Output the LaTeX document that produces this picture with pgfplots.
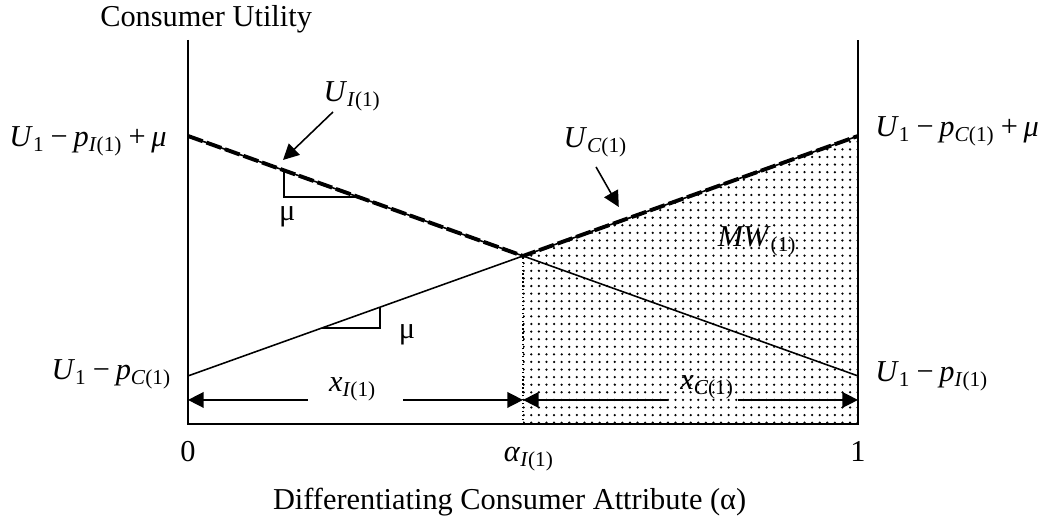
\documentclass[border=0pt]{standalone}
\usepackage{fontspec}
\setmainfont{Liberation Serif}
\usepackage{pgfplots}
\pgfplotsset{compat=1.18}
\usetikzlibrary{arrows.meta,patterns.meta}
\newcommand{\sub}[1]{\textsubscript{#1}}
\newcommand{\iv}[1]{\textit{#1}}
\newcommand{\op}[1]{\hspace{0.19em}#1\hspace{0.19em}}
\begin{document}
\begin{tikzpicture}[every node/.append style={font=\fontsize{11.6}{14}\selectfont}]
\begin{axis}[hide axis, scale only axis, width=256pt, height=146.7pt,
  xmin=0, xmax=1, ymin=0, ymax=384, clip=false]
\coordinate (bbl) at (axis cs:-0.2806,-105);
\coordinate (bbr) at (axis cs:1.2791,424);
% shaded welfare area
\addplot[draw=none, pattern={Dots[distance=2.9pt,radius=0.48pt]}, pattern color=black]
  coordinates {(0.5,168)(1,288)} \closedcycle;
\addplot[densely dotted, line width=0.5pt] coordinates {(0.5,0)(0.5,168)};
% axes
\addplot[line width=0.8pt] coordinates {(0,384)(0,0)(1,0)(1,384)};
% utility lines
\addplot[line width=0.6pt] coordinates {(0,288)(1,48)};
\addplot[line width=0.6pt] coordinates {(0,48)(1,288)};
\addplot[line width=1.5pt, dash pattern=on 6pt off 1.5pt] coordinates {(0,288)(0.5,168)(1,288)};
% slope triangles
\addplot[line width=0.5pt] coordinates {(0.1433,253.6)(0.1433,227)(0.2542,227)};
\addplot[line width=0.5pt] coordinates {(0.2,96)(0.2866,96)(0.2866,116.8)};
% market share arrows
\addplot[line width=0.6pt, -{Triangle[length=6pt,width=6pt]}] coordinates {(0.179,24)(0,24)};
\addplot[line width=0.6pt, -{Triangle[length=6pt,width=6pt]}] coordinates {(0.321,24)(0.5,24)};
\addplot[line width=0.6pt, -{Triangle[length=6pt,width=6pt]}] coordinates {(0.716,24)(0.5,24)};
\addplot[line width=0.6pt, -{Triangle[length=6pt,width=6pt]}] coordinates {(0.821,24)(1,24)};
% label arrows
\addplot[line width=0.6pt, -{Triangle[length=6pt,width=6pt]}] coordinates {(0.2164,312)(0.1418,264)};
\addplot[line width=0.6pt, -{Triangle[length=6pt,width=6pt]}] coordinates {(0.609,257)(0.643,217)};
% text
\node[anchor=base, inner sep=0] at (axis cs:0.027,397) {Consumer Utility};
\node[anchor=base east, inner sep=0] at (axis cs:-0.031,277) {\iv{U}\sub{1}\op{−}\iv{p}\sub{\iv{I}(1)}\op{+}\iv{μ}};
\node[anchor=base east, inner sep=0] at (axis cs:-0.024,44) {\iv{U}\sub{1}\op{−}\iv{p}\sub{\iv{C}(1)}};
\node[anchor=base west, inner sep=0] at (axis cs:1.025,287) {\iv{U}\sub{1}\op{−}\iv{p}\sub{\iv{C}(1)}\op{+}\iv{μ}};
\node[anchor=base west, inner sep=0] at (axis cs:1.025,42) {\iv{U}\sub{1}\op{−}\iv{p}\sub{\iv{I}(1)}};
\node[anchor=base west, inner sep=0] at (axis cs:0.2015,322) {\iv{U}\sub{\iv{I}(1)}};
\node[anchor=base west, inner sep=0] at (axis cs:0.5597,276) {\iv{U}\sub{\iv{C}(1)}};
\node[anchor=base west, inner sep=0] at (axis cs:0.79,177) {\iv{MW}\sub{(1)}};
\node[inner sep=0] at (axis cs:0.148,207) {μ};
\node[inner sep=0] at (axis cs:0.327,89) {μ};
\node[anchor=base, inner sep=0] at (axis cs:0.246,32) {\iv{x}\sub{\iv{I}(1)}};
\node[anchor=base, inner sep=0] at (axis cs:0.775,34) {\iv{x}\sub{\iv{C}(1)}};
\node[anchor=base, inner sep=0] at (axis cs:0,-38) {0};
\node[anchor=base, inner sep=0] at (axis cs:1,-38) {1};
\node[anchor=base, inner sep=0] at (axis cs:0.509,-38) {\iv{α}\sub{\iv{I}(1)}};
\node[anchor=base, inner sep=0] at (axis cs:0.48,-86) {Differentiating Consumer Attribute (α)};
\end{axis}
\pgfresetboundingbox
\useasboundingbox (bbl) rectangle (bbr);
\end{tikzpicture}
\end{document}
